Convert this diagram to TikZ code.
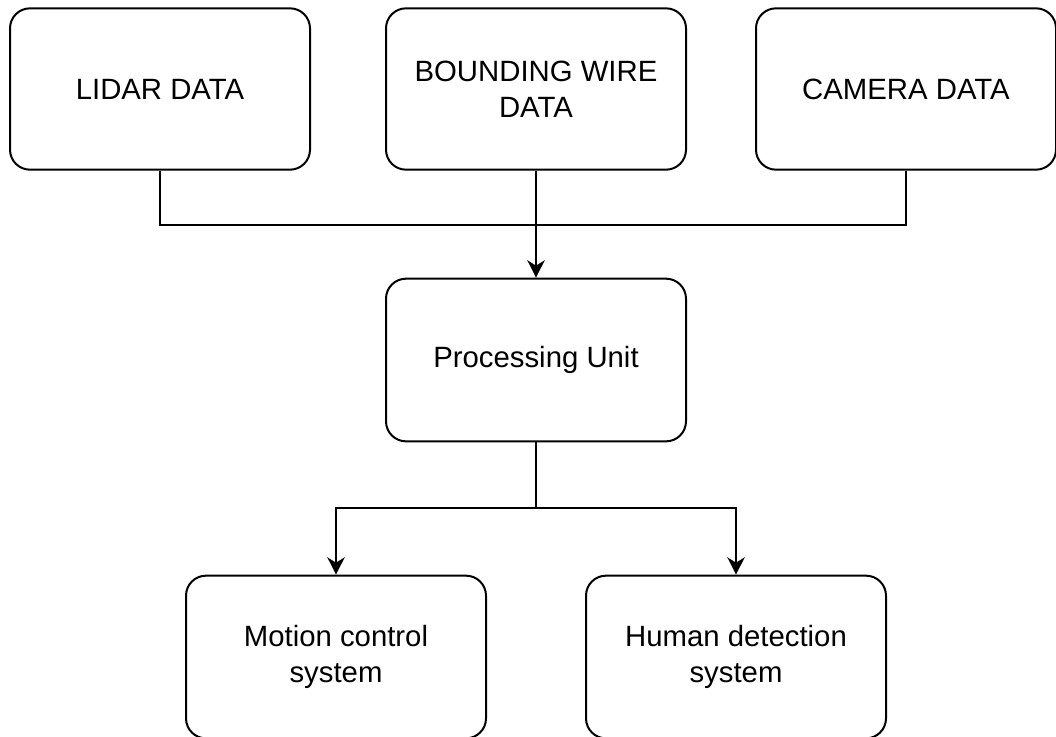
\documentclass[tikz,border=0pt]{standalone}
\usepackage{fontspec}
\setmainfont{Liberation Sans}
\usetikzlibrary{arrows.meta}

\begin{document}
\begin{tikzpicture}[x=0.75pt, y=-0.75pt,
			box/.style={draw, rounded corners=15pt, minimum width=225pt, minimum height=121pt, inner sep=0pt, align=center, font=\fontsize{22}{27}\selectfont},
			>={Stealth[length=13pt, width=13pt, inset=4pt]},   %Pfeilspitzen
			line width=1.5pt]
			%Bildbereich
			\useasboundingbox (0,0) rectangle (1056,736);
			% Eingangsdaten
			\node[box] (lidar) at (160,89) {LIDAR DATA};
			\node[box] (wire) at (536,89) {BOUNDING WIRE\\DATA};
			\node[box] (camera) at (906,89) {CAMERA DATA};
			% Verarbeitung
			\node[box, minimum height=122pt] (proc) at (536,360) {Processing Unit};
			% Ausgaenge
			\node[box, minimum height=122pt] (motion) at (336,657) {Motion control\\system};
			\node[box, minimum height=122pt] (human) at (736,657) {Human detection\\system};
			% Verzweigungen
			\coordinate (join) at (536,225);
			\coordinate (split) at (536,508);
			% Verbindungen zeichnen
			\draw (lidar.south) |- (join) -| (camera.south);
			\draw[->] (wire.south) -- (proc.north);
			\draw (proc.south) -- (split);
			\draw[->] (split) -| (motion.north);
			\draw[->] (split) -| (human.north);
		\end{tikzpicture}
\end{document}
